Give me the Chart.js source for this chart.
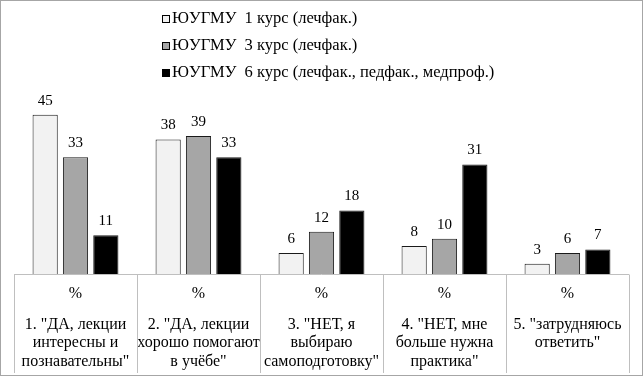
<!DOCTYPE html>
<html>
<head>
<meta charset="utf-8">
<script src="https://cdn.jsdelivr.net/npm/chart.js@4/dist/chart.umd.min.js"></script>
<style>
  html, body { margin: 0; padding: 0; background: #fff; }
  #wrap { width: 643px; height: 377px; position: relative; }
</style>
</head>
<body>
<div id="wrap"><canvas id="c" width="643" height="377"></canvas></div>
<script>
// ── Données ───────────────────────────────────────────────
const CATEGORIES = [
  ['1. "ДА, лекции', 'интересны и', 'познавательны"'],
  ['2. "ДА, лекции', 'хорошо помогают', 'в учёбе"'],
  ['3. "НЕТ, я', 'выбираю', 'самоподготовку"'],
  ['4. "НЕТ, мне', 'больше нужна', 'практика"'],
  ['5. "затрудняюсь', 'ответить"'],
];
const UNIT_LABELS = ['%', '%', '%', '%', '%'];

const SERIES_NAMES = [
  'ЮУГМУ  1 курс (лечфак.)',
  'ЮУГМУ  3 курс (лечфак.)',
  'ЮУГМУ  6 курс (лечфак., педфак., медпроф.)',
];
const COURSE_1 = [45, 38, 6, 8, 3];
const COURSE_3 = [33, 39, 12, 10, 6];
const COURSE_6 = [11, 33, 18, 31, 7];

const Y_MAX = 50;

const FONT = '"Liberation Serif", "Times New Roman", serif';
const GRID = '#bfbfbf';

// ── Plugins ───────────────────────────────────────────────
const frame = {
  id: 'frame',
  beforeDraw(chart) {
    const { ctx, width, height } = chart;
    ctx.save();
    ctx.fillStyle = '#fff';
    ctx.fillRect(0, 0, width, height);
    ctx.restore();
  },
  afterDraw(chart) {
    const { ctx, chartArea } = chart;
    const x = chart.scales.x;
    const x2 = chart.scales.x2;
    ctx.save();
    ctx.strokeStyle = GRID;
    ctx.lineWidth = 1;
    // ligne d'axe
    const yb = Math.round(chartArea.bottom) + 0.5;
    ctx.beginPath();
    ctx.moveTo(chartArea.left, yb);
    ctx.lineTo(chartArea.right, yb);
    ctx.stroke();
    // séparateurs du tableau
    const n = CATEGORIES.length;
    const step = (x.getPixelForValue(1) - x.getPixelForValue(0));
    for (let i = 0; i <= n; i++) {
      const px = Math.round(x.getPixelForValue(i) - step / 2) + 0.5;
      ctx.beginPath();
      ctx.moveTo(px, yb);
      ctx.lineTo(px, x2.bottom);
      ctx.stroke();
    }
    // cadre
    ctx.strokeStyle = '#a6a6a6';
    ctx.strokeRect(0.5, 0.5, 642, 375);
    ctx.restore();
  },
};

const valueLabels = {
  id: 'valueLabels',
  afterDatasetsDraw(chart) {
    const { ctx } = chart;
    ctx.save();
    ctx.font = '15px ' + FONT;
    ctx.fillStyle = '#000';
    ctx.textAlign = 'center';
    ctx.textBaseline = 'middle';
    chart.data.datasets.forEach((ds, di) => {
      chart.getDatasetMeta(di).data.forEach((bar, i) => {
        ctx.fillText(String(ds.data[i]), bar.x, bar.y - 14);
      });
    });
    ctx.restore();
  },
};

const legendBox = {
  id: 'legendBox',
  afterDraw(chart) {
    const { ctx } = chart;
    ctx.save();
    ctx.font = '16.5px ' + FONT;
    ctx.textBaseline = 'middle';
    chart.data.datasets.forEach((ds, i) => {
      const cy = 19 + i * 27;
      ctx.fillStyle = ds.backgroundColor;
      ctx.fillRect(162.5, cy - 3.5, 7, 7);
      ctx.strokeStyle = '#000';
      ctx.lineWidth = 1;
      ctx.strokeRect(162.5, cy - 3.5, 7, 7);
      ctx.fillStyle = '#000';
      ctx.fillText(ds.label, 172, cy);
    });
    ctx.restore();
  },
};

// ── Graphique ─────────────────────────────────────────────
const barStyle = { borderColor: '#1a1a1a', borderWidth: 1, categoryPercentage: 0.74, barPercentage: 0.83 };
const hiddenGrid = { display: false, drawTicks: false };

new Chart(document.getElementById('c'), {
  type: 'bar',
  plugins: [frame, valueLabels, legendBox],
  data: {
    labels: CATEGORIES,
    datasets: [
      { label: SERIES_NAMES[0], data: COURSE_1, backgroundColor: '#f2f2f2', ...barStyle },
      { label: SERIES_NAMES[1], data: COURSE_3, backgroundColor: '#a6a6a6', ...barStyle },
      { label: SERIES_NAMES[2], data: COURSE_6, backgroundColor: '#000000', ...barStyle },
    ],
  },
  options: {
    responsive: false,
    animation: false,
    layout: { padding: { top: 97, left: 14, right: 14, bottom: 4 } },
    plugins: {
      legend: { display: false },
      tooltip: { enabled: false },
    },
    scales: {
      y: { display: false, min: 0, max: Y_MAX },
      x: {
        position: 'bottom',
        grid: hiddenGrid,
        border: { display: false },
        ticks: {
          autoSkip: false, maxRotation: 0, minRotation: 0,
          padding: 10, color: '#000',
          font: { family: FONT, size: 16, lineHeight: 1.2 },
          callback: (v, i) => UNIT_LABELS[i],
        },
      },
      x2: {
        type: 'category',
        position: 'bottom',
        labels: CATEGORIES,
        grid: hiddenGrid,
        border: { display: false },
        ticks: {
          autoSkip: false, maxRotation: 0, minRotation: 0,
          padding: 2, color: '#000',
          font: { family: FONT, size: 16, lineHeight: 1.156 },
        },
      },
    },
  },
});
</script>
</body>
</html>
